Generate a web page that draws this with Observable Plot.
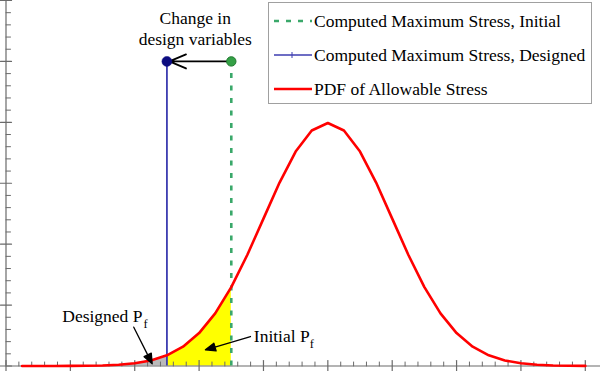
<!DOCTYPE html>
<html><head><meta charset="utf-8">
<script src="https://cdn.jsdelivr.net/npm/d3@7"></script>
<script src="https://cdn.jsdelivr.net/npm/@observablehq/plot@0.6"></script>
<style>
body{margin:0;background:#fff;}
#wrap{position:relative;width:600px;height:371px;font-family:"Liberation Serif","Times New Roman",serif;}
#legend{position:absolute;left:268px;top:2px;width:324px;height:102px;border:1.3px solid #a0a0a0;background:#fff;box-sizing:border-box;}
.row{position:absolute;left:3px;height:24px;display:flex;align-items:center;font-size:17.5px;color:#000;white-space:nowrap;}
.row svg{margin-right:2px;}
</style></head>
<body>
<div id="wrap"><div id="chart"></div><div id="legend"></div></div>
<script>
// ---- data ----
const stressX = [0.25,0.5,0.75,1.0,1.25,1.5,1.75,2.0,2.25,2.5,2.75,3.0,3.25,3.5,3.75,4.0,4.25,4.5,4.75,5.0,
                 5.25,5.5,5.75,6.0,6.25,6.5,6.75,7.0,7.25,7.5,7.75,8.0,8.25,8.5,8.75,9.0];
const pdfY = [0.000005,0.000016,0.000048,0.000134,0.000353,0.000873,0.00203,0.00443,0.00909,0.01753,0.03174,0.05399,0.08628,0.12952,0.18265,0.24197,0.30114,0.35207,0.38667,0.39894,
              0.38667,0.35207,0.30114,0.24197,0.18265,0.12952,0.08628,0.05399,0.03174,0.01753,0.00909,0.00443,0.00203,0.000873,0.000353,0.000134];
const designedStress = 2.5;
const initialStress = 3.5;
const markerLevel = 0.5;
const xMajorTicks = [0,1,2,3,4,5,6,7,8,9];
const xMinorTicks = [0.2,0.4,0.6,0.8,1.2,1.4,1.6,1.8,2.2,2.4,2.6,2.8,3.2,3.4,3.6,3.8,4.2,4.4,4.6,4.8,
                     5.2,5.4,5.6,5.8,6.2,6.4,6.6,6.8,7.2,7.4,7.6,7.8,8.2,8.4,8.6,8.8];
const yMajorTicks = [0,0.1,0.2,0.3,0.4,0.5,0.6];
const yMinorTicks = [0.02,0.04,0.06,0.08,0.12,0.14,0.16,0.18,0.22,0.24,0.26,0.28,0.32,0.34,0.36,0.38,
                     0.42,0.44,0.46,0.48,0.52,0.54,0.56,0.58];
const legendLabels = ["Computed Maximum Stress, Initial","Computed Maximum Stress, Designed","PDF of Allowable Stress"];
const topLabel = "Change in\ndesign variables";
const designedLabel = ["Designed P","f"];
const initialLabel = ["Initial P","f"];

const curve = stressX.map((x,i)=>({x, y: pdfY[i]}));

const tickShape = {draw(ctx, l){ ctx.moveTo(0,0); ctx.lineTo(0,-l); }};
const pointerShape = {draw(ctx, l){ const h=10, w=4; ctx.moveTo(0,0); ctx.lineTo(0,-l+h); ctx.moveTo(0,-l); ctx.lineTo(-w,-l+h); ctx.lineTo(w,-l+h); ctx.closePath(); }};
const axisColor = "#6a6a6a";
const font = "Liberation Serif";
const ink = "#000";

const plot = Plot.plot({
  width: 600, height: 371,
  marginLeft: 5.5, marginRight: 0, marginTop: 0, marginBottom: 5.5,
  x: {domain: [0, 9.236], axis: null},
  y: {domain: [0, 0.6], axis: null},
  style: {background: "white"},
  marks: [
    Plot.areaY(curve.filter(d => d.x <= designedStress), {x: "x", y: "y", fill: "#b9b9b9", curve: "linear"}),
    Plot.areaY(curve.filter(d => d.x >= designedStress && d.x <= initialStress), {x: "x", y: "y", fill: "#ffff00", curve: "linear"}),
    // axes
    Plot.ruleX([0], {stroke: axisColor, strokeWidth: 1.2}),
    Plot.ruleY([0], {stroke: axisColor, strokeWidth: 1.2}),
    Plot.vector(xMajorTicks, {x: d => d, y: 0, length: 11, rotate: 0, anchor: "middle", shape: tickShape, stroke: axisColor, strokeWidth: 1.2}),
    Plot.vector(xMinorTicks, {x: d => d, y: 0, length: 4, rotate: 0, anchor: "start", shape: tickShape, stroke: axisColor, strokeWidth: 1}),
    Plot.vector(yMajorTicks, {x: 0, y: d => d, length: 11, rotate: 90, anchor: "middle", shape: tickShape, stroke: axisColor, strokeWidth: 1.2}),
    Plot.vector(yMinorTicks, {x: 0, y: d => d, length: 4.5, rotate: 90, anchor: "start", shape: tickShape, stroke: axisColor, strokeWidth: 1}),
    // computed stresses
    Plot.ruleX([designedStress], {y1: 0, y2: markerLevel, stroke: "#3c3cb0", strokeWidth: 1.8}),
    Plot.ruleX([initialStress], {y1: 0, y2: markerLevel, stroke: "#3aa86a", strokeWidth: 2.6, strokeDasharray: "5,7.5"}),
    // PDF
    Plot.line(curve, {x: "x", y: "y", stroke: "#ff0000", strokeWidth: 2.6, curve: "linear"}),
    // change arrow
    Plot.arrow([{x1: initialStress, x2: designedStress}], {x1: "x1", x2: "x2", y1: markerLevel, y2: markerLevel,
      stroke: ink, strokeWidth: 1.8, headLength: 15, headAngle: 46, insetStart: 5, insetEnd: 2.5}),
    Plot.dot([designedStress], {x: d => d, y: markerLevel, r: 5, fill: "#0c0c80", stroke: "#0c0c80", strokeWidth: 0.5}),
    Plot.dot([initialStress], {x: d => d, y: markerLevel, r: 4.7, fill: "#34a046", stroke: "#217a30", strokeWidth: 1}),
    // labels
    Plot.text([topLabel], {x: 2.94, y: 0.5277, text: d => d, lineAnchor: "bottom", lineHeight: 1.2, textAnchor: "middle",
      fontFamily: font, fontSize: 17.5, fill: ink}),
    Plot.text([designedLabel[0]], {x: 2.12, y: 0.0719, text: d => d, textAnchor: "end", lineAnchor: "bottom", fontFamily: font, fontSize: 17.5, fill: ink}),
    Plot.text([designedLabel[1]], {x: 2.12, y: 0.0623, dx: 1, text: d => d, textAnchor: "start", lineAnchor: "bottom", fontFamily: font, fontSize: 12.5, fill: ink}),
    Plot.text([initialLabel[0]], {x: 3.85, y: 0.0386, text: d => d, textAnchor: "start", lineAnchor: "bottom", fontFamily: font, fontSize: 17.5, fill: ink}),
    Plot.text([initialLabel[1]], {x: 3.85, y: 0.0295, dx: 56, text: d => d, textAnchor: "start", lineAnchor: "bottom", fontFamily: font, fontSize: 12.5, fill: ink}),
    // pointers
    Plot.vector([{x: 1.985, y: 0.0637}], {x: "x", y: "y", length: 41, rotate: 153.3, anchor: "start", shape: pointerShape, stroke: ink, fill: ink, strokeWidth: 1.3}),
    Plot.vector([{x: 3.798, y: 0.0484}], {x: "x", y: "y", length: 47, rotate: 253.5, anchor: "start", shape: pointerShape, stroke: ink, fill: ink, strokeWidth: 1.3})
  ]
});
document.getElementById("chart").appendChild(plot);

// legend (overlaid inside the plot area, as in the reference)
const legend = document.getElementById("legend");
const samples = [
  `<svg width="40" height="10"><line x1="2" y1="5" x2="40" y2="5" stroke="#3aa86a" stroke-width="2.6" stroke-dasharray="5,7"/></svg>`,
  `<svg width="40" height="10"><line x1="2" y1="5" x2="40" y2="5" stroke="#3c3cb0" stroke-width="1.6"/><line x1="20" y1="2" x2="20" y2="8" stroke="#3c3cb0" stroke-width="1"/></svg>`,
  `<svg width="40" height="10"><line x1="2" y1="5" x2="40" y2="5" stroke="#ff0000" stroke-width="2.6"/></svg>`
];
const rowTops = [6, 40, 74];
legendLabels.forEach((label, i) => {
  const row = document.createElement("div");
  row.className = "row";
  row.style.top = rowTops[i] + "px";
  row.innerHTML = samples[i] + `<span>${label}</span>`;
  legend.appendChild(row);
});
</script>
</body></html>
